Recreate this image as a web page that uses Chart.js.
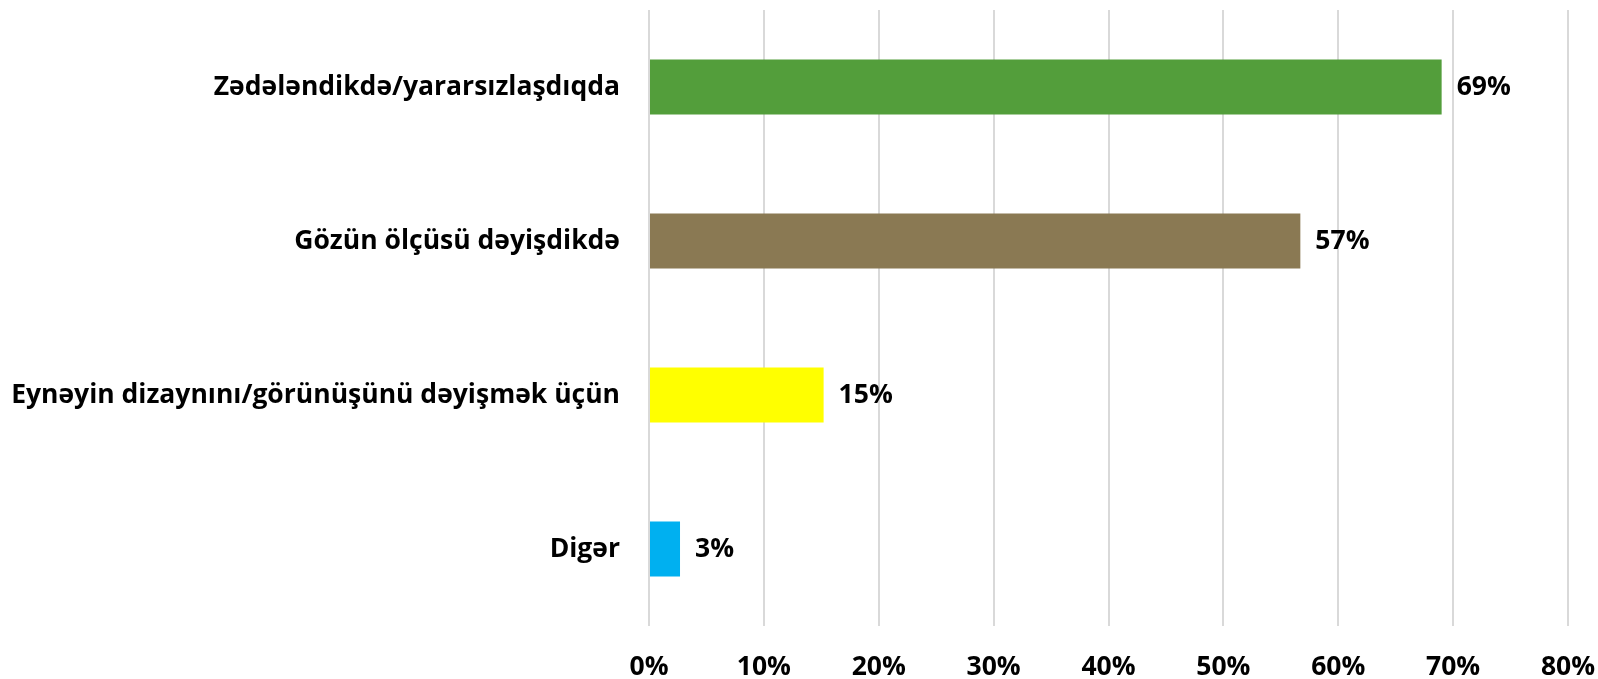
<!DOCTYPE html>
<html>
<head>
<meta charset="utf-8">
<script src="https://cdn.jsdelivr.net/npm/chart.js@4.4.0/dist/chart.umd.min.js"></script>
<style>
  html, body { margin: 0; padding: 0; background: #fff; }
  #wrap { width: 1598px; height: 679px; }
</style>
</head>
<body>
<div id="wrap"><canvas id="chart1"></canvas></div>
<script>
const categories = ['Zədələndikdə/yararsızlaşdıqda', 'Gözün ölçüsü dəyişdikdə', 'Eynəyin dizaynını/görünüşünü dəyişmək üçün', 'Digər'];
const values = [69, 56.7, 15.2, 2.7];
const valueLabels = ['69%', '57%', '15%', '3%'];
const barColors = ['#539e3b', '#8a7953', '#ffff00', '#00b0f0'];

const fontFamily = '"Open Sans", Lato, sans-serif';
const fontSize = 26.5;

// draws the value labels at the end of each bar
const valueLabelPlugin = {
    id: 'valueLabels',
    afterDatasetsDraw(chart) {
        const ctx = chart.ctx;
        const meta = chart.getDatasetMeta(0);
        ctx.save();
        ctx.font = 'bold ' + fontSize + 'px ' + fontFamily;
        ctx.fillStyle = '#000';
        ctx.textBaseline = 'middle';
        ctx.textAlign = 'left';
        meta.data.forEach((bar, i) => {
            ctx.fillText(valueLabels[i], bar.x + 15, bar.y);
        });
        ctx.restore();
    }
};

const ctx1 = document.getElementById('chart1').getContext('2d');
const chart1 = new Chart(ctx1, {
    type: 'bar',
    data: {
        labels: categories,
        datasets: [{
            data: values,
            backgroundColor: barColors,
            barPercentage: 0.357,
            categoryPercentage: 1.0
        }]
    },
    options: {
        responsive: true,
        maintainAspectRatio: false,
        animation: false,
        indexAxis: 'y',
        layout: {
            padding: { top: 10, right: 30, left: 0, bottom: 0 }
        },
        plugins: {
            legend: { display: false },
            tooltip: { enabled: false }
        },
        scales: {
            x: {
                min: 0,
                max: 80,
                grid: {
                    color: '#d9d9d9',
                    lineWidth: 2,
                    drawTicks: false
                },
                border: { display: false },
                ticks: {
                    stepSize: 10,
                    padding: 26,
                    color: '#000',
                    font: { family: fontFamily, size: fontSize, weight: 'bold' },
                    callback: (v) => v + '%'
                },
                afterFit: (scale) => {
                    scale.height = 53;
                    scale.paddingLeft = 0;
                    scale.paddingRight = 0;
                }
            },
            y: {
                grid: { display: false },
                border: { display: false },
                ticks: {
                    padding: 21,
                    color: '#000',
                    font: { family: fontFamily, size: fontSize, weight: 'bold' }
                },
                afterFit: (scale) => {
                    scale.width = 649;
                    scale.paddingTop = 0;
                    scale.paddingBottom = 0;
                }
            }
        }
    },
    plugins: [valueLabelPlugin]
});
</script>
</body>
</html>
